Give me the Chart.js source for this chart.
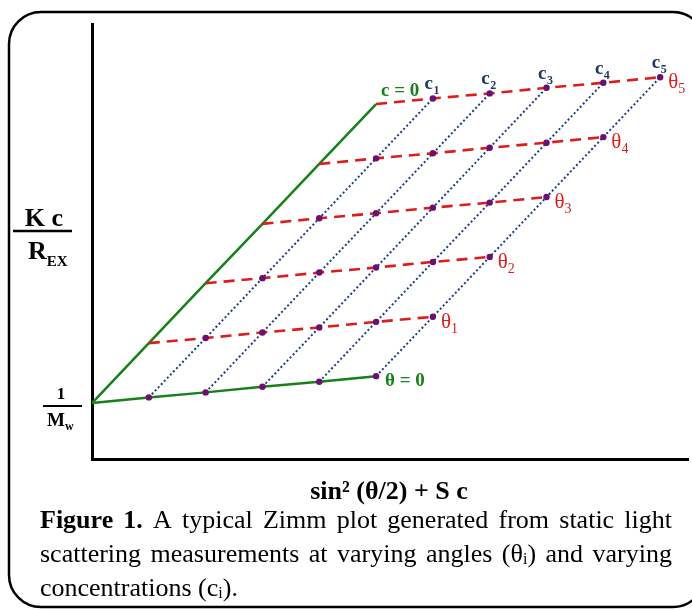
<!DOCTYPE html>
<html>
<head>
<meta charset="utf-8">
<script src="https://cdn.jsdelivr.net/npm/chart.js@4.4.0/dist/chart.umd.min.js"></script>
<style>
  html, body { margin: 0; padding: 0; background: #fff; }
  #wrap { position: relative; width: 692px; height: 610px; }
</style>
</head>
<body>
<div id="wrap"><canvas id="zimm-chart" width="692" height="610"></canvas></div>
<script>
// Zimm plot grid, rows = angle theta_j (j = 0..5), columns = concentration c_i (i = 0..5)
const thetaLabels = ["0", "1", "2", "3", "4", "5"];
const concLabels = ["0", "1", "2", "3", "4", "5"];

// x = sin^2(theta/2) + S c
const xRows = [
  [0, 1, 2, 3, 4, 5],
  [1, 2, 3, 4, 5, 6],
  [2, 3, 4, 5, 6, 7],
  [3, 4, 5, 6, 7, 8],
  [4, 5, 6, 7, 8, 9],
  [5, 6, 7, 8, 9, 10],
];

// y = K c / R_EX
const yRows = [
  [1.0, 1.1, 1.19, 1.29, 1.38, 1.48],
  [2.07, 2.16, 2.26, 2.35, 2.45, 2.54],
  [3.14, 3.23, 3.33, 3.42, 3.52, 3.61],
  [4.2, 4.3, 4.39, 4.49, 4.58, 4.68],
  [5.27, 5.37, 5.46, 5.56, 5.65, 5.75],
  [6.34, 6.44, 6.53, 6.63, 6.72, 6.82],
];

const GREEN = "#17801a";
const RED = "#dd1c1c";
const NAVY = "#1c3f80";
const NAVY_TEXT = "#1f3864";
const PURPLE = "#6c0f6e";
const SERIF = "'Liberation Serif', 'DejaVu Serif', serif";

function rowPoints(j) {
  return xRows[j].map((x, i) => ({ x: x, y: yRows[j][i] }));
}
function colPoints(i) {
  return xRows.map((row, j) => ({ x: row[i], y: yRows[j][i] }));
}

const datasets = [];

// measured points (every c > 0)
const dots = [];
for (let j = 0; j < xRows.length; j++) {
  for (let i = 1; i < xRows[j].length; i++) {
    dots.push({ x: xRows[j][i], y: yRows[j][i] });
  }
}
datasets.push({
  label: "points",
  data: dots,
  showLine: false,
  pointRadius: 3.2,
  pointBackgroundColor: PURPLE,
  pointBorderWidth: 0,
});

// constant concentration lines (dotted)
for (let i = 1; i < concLabels.length; i++) {
  datasets.push({
    label: "c" + concLabels[i],
    data: colPoints(i),
    showLine: true,
    borderColor: NAVY,
    borderWidth: 2,
    borderDash: [2, 2.4],
    pointRadius: 0,
  });
}

// constant angle lines (dashed)
for (let j = 1; j < thetaLabels.length; j++) {
  datasets.push({
    label: "theta" + thetaLabels[j],
    data: rowPoints(j),
    showLine: true,
    borderColor: RED,
    borderWidth: 2.6,
    borderDash: [11, 7],
    pointRadius: 0,
  });
}

// extrapolations: c = 0 and theta = 0
datasets.push({
  label: "c = 0",
  data: colPoints(0),
  showLine: true,
  borderColor: GREEN,
  borderWidth: 2.5,
  pointRadius: 0,
});
datasets.push({
  label: "theta = 0",
  data: rowPoints(0),
  showLine: true,
  borderColor: GREEN,
  borderWidth: 2.5,
  pointRadius: 0,
});

function subText(ctx, main, sub, x, y, mainFont, subFont, dy) {
  ctx.font = mainFont;
  ctx.fillText(main, x, y);
  const w = ctx.measureText(main).width;
  ctx.font = subFont;
  ctx.fillText(sub, x + w, y + dy);
  return x + w + ctx.measureText(sub).width;
}

function runsWidth(ctx, runs) {
  let w = 0;
  runs.forEach((r) => {
    ctx.font = r[1];
    w += ctx.measureText(r[0]).width;
  });
  return w;
}

function drawLine(ctx, words, x0, x1, y, justify) {
  const widths = words.map((wd) => runsWidth(ctx, wd));
  const total = widths.reduce((a, b) => a + b, 0);
  ctx.font = words[0][0][1];
  let gap = ctx.measureText(" ").width;
  if (justify) gap = (x1 - x0 - total) / (words.length - 1);
  let x = x0;
  words.forEach((wd) => {
    wd.forEach((r) => {
      ctx.font = r[1];
      ctx.fillText(r[0], x, y + (r[2] || 0));
      x += ctx.measureText(r[0]).width;
    });
    x += gap;
  });
}

const zimmText = {
  id: "zimmText",
  afterDraw(chart) {
    const ctx = chart.ctx;
    const xs = chart.scales.x;
    const ys = chart.scales.y;
    const px = (j, i) => xs.getPixelForValue(xRows[j][i]);
    const py = (j, i) => ys.getPixelForValue(yRows[j][i]);
    ctx.save();

    // rounded frame
    ctx.strokeStyle = "#000";
    ctx.lineWidth = 2.5;
    const fx = 9, fy = 12, fw = 696, fh = 595, r = 32;
    ctx.beginPath();
    ctx.moveTo(fx + r, fy);
    ctx.arcTo(fx + fw, fy, fx + fw, fy + fh, r);
    ctx.arcTo(fx + fw, fy + fh, fx, fy + fh, r);
    ctx.arcTo(fx, fy + fh, fx, fy, r);
    ctx.arcTo(fx, fy, fx + fw, fy, r);
    ctx.closePath();
    ctx.stroke();

    ctx.textBaseline = "alphabetic";

    // concentration labels above the top row
    ctx.fillStyle = NAVY_TEXT;
    for (let i = 1; i < concLabels.length; i++) {
      const x = px(5, i), y = py(5, i);
      ctx.font = "bold 19px " + SERIF;
      ctx.textAlign = "right";
      ctx.fillText("c", x, y - 9);
      ctx.textAlign = "left";
      ctx.font = "bold 12px " + SERIF;
      ctx.fillText(concLabels[i], x + 0.5, y - 4);
    }

    // angle labels at the right end of each row
    ctx.fillStyle = RED;
    ctx.textAlign = "left";
    for (let j = 1; j < thetaLabels.length; j++) {
      const x = px(j, 5), y = py(j, 5);
      subText(ctx, "θ", thetaLabels[j], x + 8, y + 11, "21px " + SERIF, "14px " + SERIF, 5);
    }

    // extrapolation labels
    ctx.fillStyle = GREEN;
    ctx.font = "bold 19px " + SERIF;
    ctx.fillText("c = 0", px(5, 0) + 5, py(5, 0) - 8);
    ctx.fillText("θ = 0", px(0, 5) + 9, py(0, 5) + 10);

    // y axis title Kc / R_EX
    ctx.fillStyle = "#000";
    ctx.strokeStyle = "#000";
    ctx.textAlign = "center";
    ctx.font = "bold 26px " + SERIF;
    ctx.fillText("K c", 44, 226);
    ctx.lineWidth = 2.5;
    ctx.beginPath();
    ctx.moveTo(13, 231);
    ctx.lineTo(72, 231);
    ctx.stroke();
    ctx.textAlign = "left";
    subText(ctx, "R", "EX", 28, 259, "bold 26px " + SERIF, "bold 15px " + SERIF, 7);

    // 1 / M_w at the intercept
    const yo = py(0, 0);
    ctx.textAlign = "center";
    ctx.font = "bold 17px " + SERIF;
    ctx.fillText("1", 61, yo - 4);
    ctx.lineWidth = 2.2;
    ctx.beginPath();
    ctx.moveTo(43, yo + 3);
    ctx.lineTo(82, yo + 3);
    ctx.stroke();
    ctx.textAlign = "left";
    subText(ctx, "M", "w", 47, yo + 23, "bold 19px " + SERIF, "bold 12px " + SERIF, 4);

    // x axis title
    ctx.textAlign = "center";
    ctx.font = "bold 26px " + SERIF;
    ctx.fillText("sin² (θ/2) + S c", 389, 499);

    // caption
    ctx.textAlign = "left";
    const reg = "26px " + SERIF;
    const bold = "bold 26px " + SERIF;
    const small = "16px " + SERIF;
    const line1 = ["A", "typical", "Zimm", "plot", "generated", "from", "static", "light"].map((w) => [[w, reg]]);
    line1.unshift([["1.", bold]]);
    line1.unshift([["Figure", bold]]);
    const line2 = ["scattering", "measurements", "at", "varying", "angles"].map((w) => [[w, reg]]);
    line2.push([["(θ", reg], ["i", small, 2], [")", reg]]);
    line2.push([["and", reg]], [["varying", reg]]);
    const line3 = [[["concentrations", reg]], [["(c", reg], ["i", small, 2], [").", reg]]];
    drawLine(ctx, line1, 40, 672, 528, true);
    drawLine(ctx, line2, 40, 672, 562, true);
    drawLine(ctx, line3, 40, 672, 596, false);

    ctx.restore();
  },
};

const config = {
  type: "scatter",
  data: { datasets: datasets },
  options: {
    responsive: false,
    animation: false,
    layout: { padding: { left: 92, top: 24, right: 0, bottom: 151 } },
    scales: {
      x: {
        type: "linear",
        min: 0,
        max: 10.49,
        grid: { display: false, drawTicks: false },
        ticks: { display: false },
        border: { display: true, color: "#000", width: 3 },
      },
      y: {
        type: "linear",
        min: 0,
        max: 7.77,
        grid: { display: false, drawTicks: false },
        ticks: { display: false },
        border: { display: true, color: "#000", width: 3 },
      },
    },
    plugins: {
      legend: { display: false },
      tooltip: { enabled: false },
    },
  },
  plugins: [zimmText],
};

const myChart = new Chart(document.getElementById("zimm-chart"), config);
</script>
</body>
</html>
